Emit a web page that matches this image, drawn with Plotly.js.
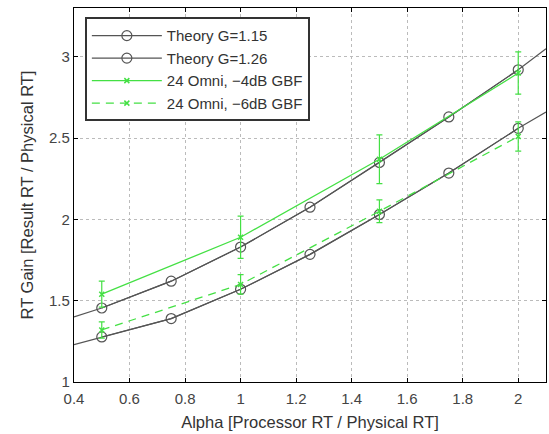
<!DOCTYPE html>
<html><head><meta charset="utf-8">
<script src="https://cdn.plot.ly/plotly-3.0.1.min.js"></script>
<style>body{margin:0;background:#fff}</style>
</head><body><div id="chart" style="width:549px;height:434px"></div>
<script>
// Theory curves: line points (incl. axis-edge points) and marker points
const lineX = [0.4, 0.5, 0.75, 1.0, 1.25, 1.5, 1.75, 2.0, 2.1];
const theory115Line = [1.40, 1.455, 1.62, 1.83, 2.075, 2.35, 2.63, 2.92, 3.05];
const theory126Line = [1.23, 1.277, 1.39, 1.57, 1.785, 2.03, 2.285, 2.56, 2.66];
const markX = [0.5, 0.75, 1.0, 1.25, 1.5, 1.75, 2.0];
const theory115 = [1.455, 1.62, 1.83, 2.075, 2.35, 2.63, 2.92];
const theory126 = [1.277, 1.39, 1.57, 1.785, 2.03, 2.285, 2.56];
// Measured
const measX = [0.5, 1.0, 1.5, 2.0];
const omni4 = [1.54, 1.89, 2.37, 2.90];
const omni4Err = [0.08, 0.13, 0.15, 0.13];
const omni6 = [1.32, 1.60, 2.05, 2.51];
const omni6Err = [0.05, 0.06, 0.07, 0.09];

const gray = '#555555';
const green = '#44e044';
const traces = [
  {x: lineX, y: theory115Line, mode: 'lines', line: {color: gray, width: 1.2}, showlegend: false, hoverinfo: 'skip'},
  {x: lineX, y: theory126Line, mode: 'lines', line: {color: gray, width: 1.2}, showlegend: false, hoverinfo: 'skip'},
  {x: markX, y: theory115, mode: 'lines+markers', name: 'Theory G=1.15', legendgroup: 'a',
   line: {color: gray, width: 1.2}, marker: {symbol: 'circle-open', size: 10, color: gray, line: {width: 1.2}}},
  {x: markX, y: theory126, mode: 'lines+markers', name: 'Theory G=1.26', legendgroup: 'b',
   line: {color: gray, width: 1.2}, marker: {symbol: 'circle-open', size: 10, color: gray, line: {width: 1.2}}},
  {x: measX, y: omni4, mode: 'lines+markers', name: '24 Omni, \u22124dB GBF', legendgroup: 'c',
   line: {color: green, width: 1.3}, marker: {symbol: 'x-thin-open', size: 5, color: green, line: {width: 1.5, color: green}},
   error_y: {type: 'data', array: omni4Err, visible: true, color: green, thickness: 1.2, width: 3}},
  {x: measX, y: omni6, mode: 'lines+markers', name: '24 Omni, \u22126dB GBF', legendgroup: 'd',
   line: {color: green, width: 1.3, dash: '8px,6px'}, marker: {symbol: 'x-thin-open', size: 5, color: green, line: {width: 1.5, color: green}},
   error_y: {type: 'data', array: omni6Err, visible: true, color: green, thickness: 1.2, width: 3}}
];

const axisCommon = {
  showline: true, linecolor: '#000', linewidth: 1.2, mirror: 'ticks',
  ticks: 'inside', ticklen: 4, tickcolor: '#000',
  showgrid: true, gridcolor: '#bbbbbb', griddash: 'dot', gridwidth: 1,
  zeroline: false, tickfont: {size: 15, color: '#444'}
};

const layout = {
  width: 549, height: 434,
  margin: {l: 74, r: 3, t: 8, b: 52},
  paper_bgcolor: '#fff', plot_bgcolor: '#fff',
  font: {family: 'Liberation Sans, Arial, sans-serif', size: 15, color: '#333'},
  xaxis: Object.assign({}, axisCommon, {range: [0.4, 2.1], tickvals: [0.4,0.6,0.8,1,1.2,1.4,1.6,1.8,2],
    ticktext: ['0.4','0.6','0.8','1','1.2','1.4','1.6','1.8','2'], ticklabelstandoff: 3,
    title: {text: 'Alpha [Processor RT / Physical RT]', font: {size: 16.5, color: '#333'}, standoff: 10}}),
  yaxis: Object.assign({}, axisCommon, {range: [1, 3.3], tickvals: [1,1.5,2,2.5,3],
    ticktext: ['1','1.5','2','2.5','3'],
    title: {text: 'RT Gain [Result RT / Physical RT]', font: {size: 16.5, color: '#333'}, standoff: 11}}),
  legend: {x: 0.023, y: 0.975, xanchor: 'left', yanchor: 'top', bgcolor: '#fff',
    bordercolor: '#333', borderwidth: 2, font: {size: 15, color: '#333'},
    itemwidth: 70, traceorder: 'grouped', tracegroupgap: 0},
  showlegend: true
};

Plotly.newPlot('chart', traces, layout, {displayModeBar: false, staticPlot: true});
</script></body></html>
